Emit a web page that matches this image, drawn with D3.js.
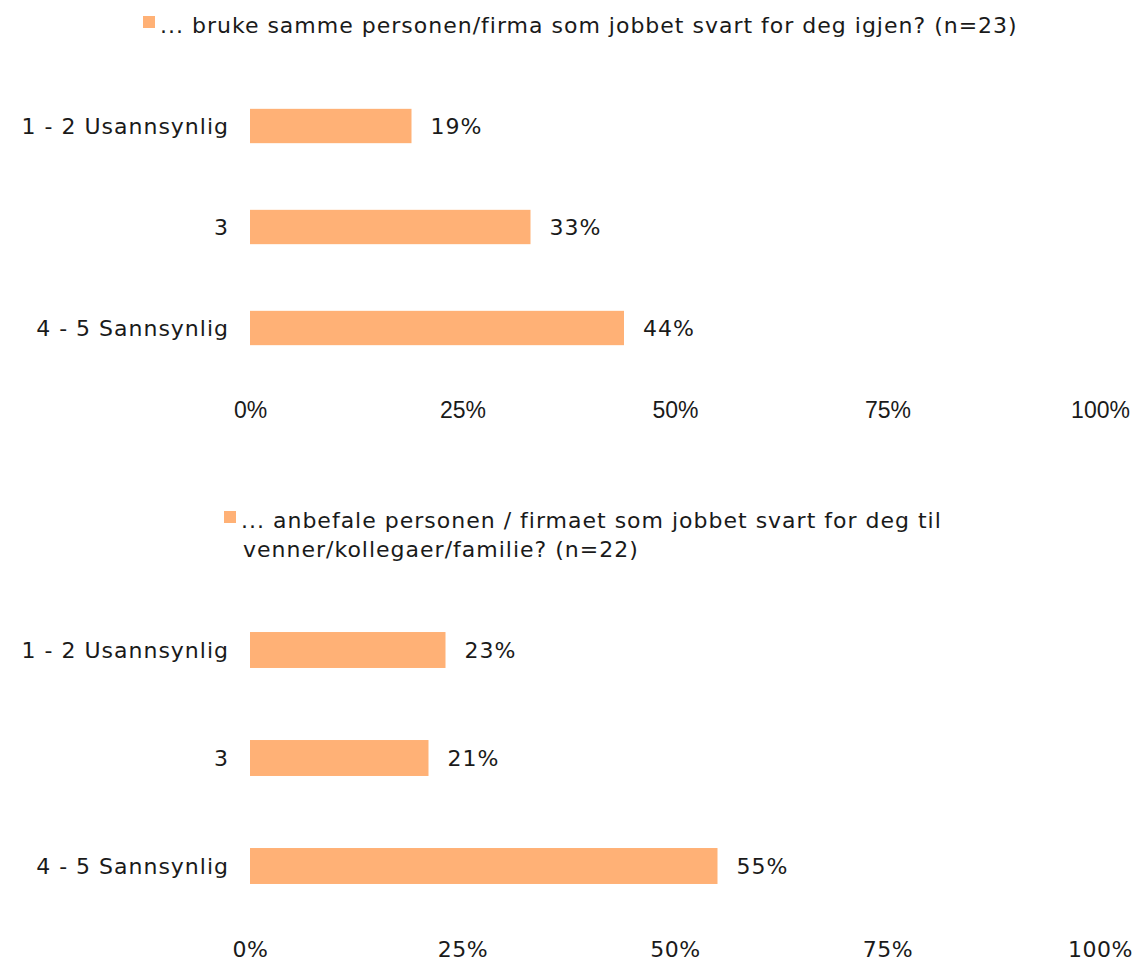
<!DOCTYPE html>
<html>
<head>
<meta charset="utf-8">
<script src="https://cdn.jsdelivr.net/npm/d3@7.9.0/dist/d3.min.js"></script>
<style>
  body { margin: 0; background: #fff; }
  svg { display: block; }
  .cat, .val, .legend-text { font-family: "DejaVu Sans", sans-serif; fill: #1a1a1a; letter-spacing: 1px; }
</style>
</head>
<body>
<svg id="chart" width="1135" height="962"></svg>
<script>
// data
const categories = ["1 - 2 Usannsynlig", "3", "4 - 5 Sannsynlig"];
const reuseValues = [0.19, 0.33, 0.44];
const recommendValues = [0.23, 0.21, 0.55];
const tickValues = [0, 0.25, 0.5, 0.75, 1];
const reuseTitle = ["... bruke samme personen/firma som jobbet svart for deg igjen? (n=23)"];
const recommendTitle = ["... anbefale personen / firmaet som jobbet svart for deg til", "venner/kollegaer/familie? (n=22)"];

const barColor = "#ffb176";
const svg = d3.select("#chart");
const x = d3.scaleLinear().domain([0, 1]).range([250, 1100]);

function drawPanel(values, title, opts) {
  const g = svg.append("g");

  // legend
  g.append("rect")
    .attr("x", opts.legendX).attr("y", opts.legendY - 17)
    .attr("width", 12).attr("height", 12)
    .attr("fill", barColor);
  title.forEach((line, i) => {
    g.append("text")
      .attr("class", "legend-text")
      .attr("x", i === 0 ? opts.legendX + 17 : opts.legendX + 19)
      .attr("y", opts.legendY + i * 29)
      .attr("font-size", 22)
      .text(line);
  });

  const y = d3.scaleBand()
    .domain(categories)
    .range(opts.yRange)
    .paddingInner(opts.pad)
    .paddingOuter(opts.pad / 2);

  const rows = categories.map((c, i) => ({ cat: c, v: values[i] }));

  g.selectAll("rect.bar").data(rows).join("rect")
    .attr("class", "bar")
    .attr("x", x(0))
    .attr("y", d => y(d.cat))
    .attr("width", d => x(d.v) - x(0))
    .attr("height", y.bandwidth())
    .attr("fill", barColor);

  g.selectAll("text.cat").data(rows).join("text")
    .attr("class", "cat")
    .attr("x", 229)
    .attr("y", d => y(d.cat) + y.bandwidth() / 2)
    .attr("dy", "0.35em")
    .attr("text-anchor", "end")
    .attr("font-size", 22)
    .text(d => d.cat);

  g.selectAll("text.val").data(rows).join("text")
    .attr("class", "val")
    .attr("x", d => x(d.v) + 19)
    .attr("y", d => y(d.cat) + y.bandwidth() / 2)
    .attr("dy", "0.35em")
    .attr("font-size", 22)
    .text(d => d3.format(".0%")(d.v));

  const axis = d3.axisBottom(x)
    .tickValues(tickValues)
    .tickFormat(d3.format(".0%"))
    .tickSize(0)
    .tickPadding(0);
  const ag = g.append("g")
    .attr("transform", `translate(0,${opts.axisY})`)
    .call(axis);
  ag.select(".domain").remove();
  ag.selectAll(".tick text")
    .attr("font-size", opts.axisSize)
    .attr("font-family", opts.axisFont)
    .attr("letter-spacing", opts.axisSpacing)
    .attr("fill", "#1a1a1a");
}

drawPanel(reuseValues, reuseTitle, {
  legendX: 143, legendY: 33,
  yRange: [75.5, 378.5], pad: 0.66,
  axisY: 402, axisFont: "Liberation Sans, Arial, sans-serif", axisSize: 23, axisSpacing: "0px"
});

drawPanel(recommendValues, recommendTitle, {
  legendX: 224, legendY: 528,
  yRange: [596, 920], pad: 0.667,
  axisY: 941, axisFont: "DejaVu Sans, sans-serif", axisSize: 22, axisSpacing: "0.5px"
});
</script>
</body>
</html>
